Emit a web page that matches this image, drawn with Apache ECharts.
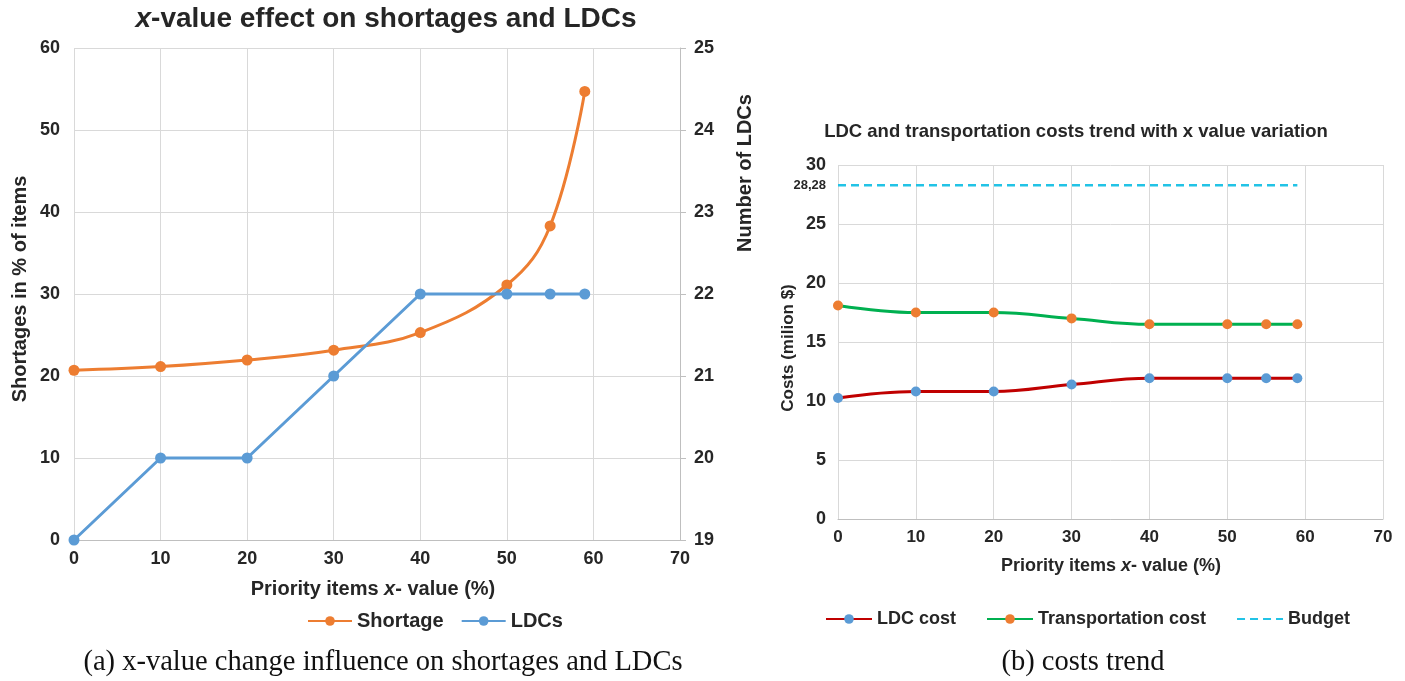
<!DOCTYPE html>
<html>
<head>
<meta charset="utf-8">
<script src="https://cdn.jsdelivr.net/npm/echarts@6/dist/echarts.min.js"></script>
<style>html,body{margin:0;padding:0;background:#fff}#c{width:1405px;height:681px}</style>
</head>
<body>
<div id="c"></div>
<script>
// ---- data ----
const xValues = [0, 10, 20, 30, 40, 50, 55, 59];
const shortage = [20.7, 21.15, 21.95, 23.15, 25.3, 31.1, 38.3, 54.7];
const ldcs = [19, 20, 20, 21, 22, 22, 22, 22];
const ldcCost = [10.25, 10.8, 10.8, 11.4, 11.93, 11.93, 11.93, 11.93];
const transportCost = [18.1, 17.5, 17.5, 17.0, 16.5, 16.5, 16.5, 16.5];
const budgetX = [0, 59];
const budget = [28.28, 28.28];
const budgetLabel = '28,28';

const F = '"Liberation Sans", Arial, sans-serif';
const SERIF = '"Liberation Serif", "Times New Roman", serif';
const TXT = '#262626';
const GRID = '#d9d9d9';

const pairs = (xs, ys) => xs.map((x, i) => [x, ys[i]]);

const chart = echarts.init(document.getElementById('c'), null, {renderer: 'canvas'});

function gText(x, y, text, size, opts) {
  opts = opts || {};
  return {
    type: 'text', x: x, y: y, rotation: opts.rotation || 0, silent: true,
    style: {
      text: text, x: 0, y: 0,
      fontSize: size, fontWeight: opts.weight || 'bold',
      fontFamily: opts.family || F, fill: opts.fill || TXT,
      align: 'center', verticalAlign: 'middle',
      textAlign: 'center', textVerticalAlign: 'middle',
      rich: opts.rich
    }
  };
}
const italicRich = (size) => ({ i: { fontStyle: 'italic', fontWeight: 'bold', fontSize: size, fontFamily: F, fill: TXT, color: TXT } });

const axisLabelStyle = (size) => ({ color: TXT, fontSize: size, fontWeight: 'bold', fontFamily: F });

const option = {
  animation: false,
  backgroundColor: '#fff',
  grid: [
    { left: 74, top: 48, width: 606, height: 492 },
    { left: 838, top: 165, width: 545, height: 354 }
  ],
  xAxis: [
    { gridIndex: 0, type: 'value', min: 0, max: 70, interval: 10,
      axisLine: { show: true, lineStyle: { color: '#bfbfbf' } }, axisTick: { show: false },
      splitLine: { show: true, lineStyle: { color: GRID } },
      axisLabel: Object.assign(axisLabelStyle(18), { margin: 10 }) },
    { gridIndex: 1, type: 'value', min: 0, max: 70, interval: 10,
      axisLine: { show: true, lineStyle: { color: '#bfbfbf' } }, axisTick: { show: false },
      splitLine: { show: true, lineStyle: { color: GRID } },
      axisLabel: Object.assign(axisLabelStyle(17), { margin: 10 }) }
  ],
  yAxis: [
    { gridIndex: 0, type: 'value', min: 0, max: 60, interval: 10, position: 'left',
      axisLine: { show: false }, axisTick: { show: false },
      splitLine: { show: true, lineStyle: { color: GRID } },
      axisLabel: Object.assign(axisLabelStyle(18), { margin: 14 }) },
    { gridIndex: 0, type: 'value', min: 19, max: 25, interval: 1, position: 'right',
      axisLine: { show: true, lineStyle: { color: '#bfbfbf' } },
      axisTick: { show: true, length: 6, lineStyle: { color: '#bfbfbf' } },
      splitLine: { show: false },
      axisLabel: Object.assign(axisLabelStyle(18), { margin: 14 }) },
    { gridIndex: 1, type: 'value', min: 0, max: 30, interval: 5, position: 'left',
      axisLine: { show: false }, axisTick: { show: false },
      splitLine: { show: true, lineStyle: { color: GRID } },
      axisLabel: Object.assign(axisLabelStyle(18), { margin: 12 }) },
    { gridIndex: 1, type: 'value', min: 0, max: 30, position: 'left',
      axisLine: { show: false }, axisTick: { show: false }, splitLine: { show: false },
      axisLabel: Object.assign(axisLabelStyle(13), { margin: 12, customValues: [budget[0]], formatter: () => budgetLabel }) }
  ],
  legend: [
    { left: 302, top: 606, itemWidth: 44, itemHeight: 12, itemGap: 17,
      textStyle: { color: TXT, fontSize: 20, fontWeight: 'bold', fontFamily: F },
      data: ['Shortage', 'LDCs'] },
    { left: 820, top: 605, itemWidth: 46, itemHeight: 12, itemGap: 30,
      textStyle: { color: TXT, fontSize: 18, fontWeight: 'bold', fontFamily: F },
      data: ['LDC cost', 'Transportation cost', { name: 'Budget', itemStyle: { opacity: 0 } }] }
  ],
  series: [
    { name: 'Shortage', type: 'line', xAxisIndex: 0, yAxisIndex: 0, smooth: 0.4,
      data: pairs(xValues, shortage), symbol: 'circle', symbolSize: 11,
      itemStyle: { color: '#ED7D31' }, lineStyle: { color: '#ED7D31', width: 3 } },
    { name: 'LDCs', type: 'line', xAxisIndex: 0, yAxisIndex: 1,
      data: pairs(xValues, ldcs), symbol: 'circle', symbolSize: 11,
      itemStyle: { color: '#5B9BD5' }, lineStyle: { color: '#5B9BD5', width: 3 } },
    { name: 'LDC cost', type: 'line', xAxisIndex: 1, yAxisIndex: 2, smooth: 0.4,
      data: pairs(xValues, ldcCost), symbol: 'circle', symbolSize: 10,
      itemStyle: { color: '#5B9BD5' }, lineStyle: { color: '#C00000', width: 3 } },
    { name: 'Transportation cost', type: 'line', xAxisIndex: 1, yAxisIndex: 2, smooth: 0.4,
      data: pairs(xValues, transportCost), symbol: 'circle', symbolSize: 10,
      itemStyle: { color: '#ED7D31' }, lineStyle: { color: '#00B050', width: 3 } },
    { name: 'Budget', type: 'line', xAxisIndex: 1, yAxisIndex: 2,
      data: pairs(budgetX, budget), symbol: 'none', showSymbol: false,
      itemStyle: { color: '#22C3E6' },
      lineStyle: { color: '#22C3E6', width: 2.5, type: [8, 5] } }
  ],
  graphic: [
    gText(386, 19, '{i|x}-value effect on shortages and LDCs', 28, { rich: italicRich(28) }),
    gText(373, 589, 'Priority items {i|x}- value (%)', 20, { rich: italicRich(20) }),
    gText(20, 289, 'Shortages in % of items', 20, { rotation: Math.PI / 2 }),
    gText(745, 173, 'Number of LDCs', 20, { rotation: Math.PI / 2 }),
    gText(1076, 132, 'LDC and transportation costs trend with x value variation', 18.5),
    gText(1111, 566, 'Priority items {i|x}- value (%)', 18, { rich: italicRich(18) }),
    gText(788, 348, 'Costs (milion $)', 17, { rotation: Math.PI / 2 }),
    gText(383, 663, '(a) x-value change influence on shortages and LDCs', 28.5, { weight: 'normal', family: SERIF, fill: '#111' }),
    gText(1083, 663, '(b) costs trend', 28.5, { weight: 'normal', family: SERIF, fill: '#111' })
  ]
};
chart.setOption(option);
</script>
</body>
</html>
